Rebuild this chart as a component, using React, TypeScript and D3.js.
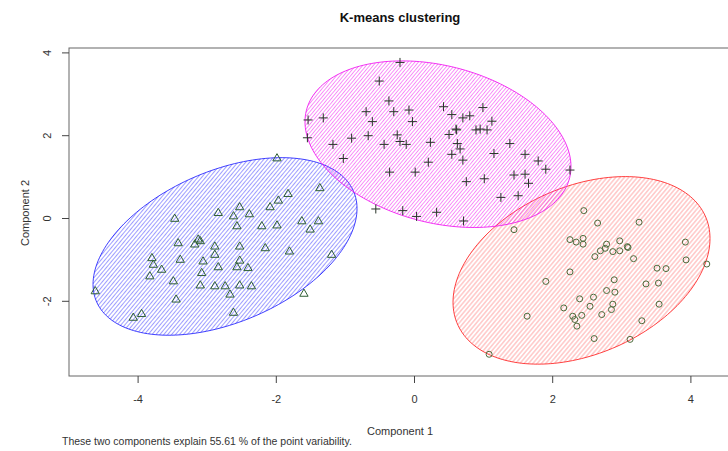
import React, { useEffect, useRef } from 'react';
import * as d3 from 'd3';

// axis ticks
const xTicks = [-4, -2, 0, 2, 4];
const yTicks = [-2, 0, 2, 4];

// cluster 1 (circles)
const circlePoints = [
  [2.45, 0.19], [2.65, -0.11], [3.25, -0.09], [1.44, -0.27], [2.25, -0.51], [2.34, -0.57],
  [2.44, -0.48], [2.44, -0.62], [2.78, -0.62], [2.76, -0.72], [2.69, -0.78], [2.97, -0.54],
  [2.87, -0.8], [2.97, -0.78], [3.09, -0.7], [2.61, -0.92], [3.17, -0.97], [3.92, -0.57],
  [3.93, -1.0], [3.51, -1.2], [3.64, -1.21], [4.23, -1.1], [2.25, -1.29], [1.9, -1.52],
  [2.89, -1.48], [3.35, -1.58], [3.53, -1.56], [2.78, -1.74], [2.9, -1.78], [2.59, -1.9],
  [2.39, -1.94], [2.54, -2.12], [2.87, -2.07], [2.85, -2.2], [2.71, -2.32], [3.54, -2.07],
  [2.16, -2.16], [1.63, -2.36], [2.29, -2.36], [2.32, -2.44], [2.42, -2.34], [2.35, -2.6],
  [3.29, -2.47], [2.6, -2.9], [3.12, -2.92], [1.08, -3.28], [3.08, -0.68]
];

// cluster 2 (triangles)
const trianglePoints = [
  [-1.99, 1.45], [-1.37, 0.73], [-1.83, 0.59], [-1.97, 0.43], [-2.09, 0.27], [-2.53, 0.27],
  [-2.84, 0.13], [-2.62, 0.05], [-2.39, 0.1], [-3.47, -0.01], [-2.57, -0.19], [-2.21, -0.19],
  [-1.99, -0.17], [-1.63, -0.07], [-1.51, -0.27], [-1.39, -0.07], [-3.13, -0.51], [-3.18, -0.63],
  [-3.42, -0.6], [-2.89, -0.68], [-2.53, -0.68], [-2.16, -0.72], [-1.81, -0.8], [-1.2, -0.88],
  [-2.89, -0.88], [-3.8, -0.96], [-3.39, -1.0], [-3.06, -1.04], [-2.84, -1.18], [-2.53, -1.02],
  [-2.57, -1.18], [-2.41, -1.2], [-3.78, -1.12], [-3.66, -1.24], [-3.08, -1.32], [-3.83, -1.4],
  [-3.49, -1.52], [-3.1, -1.62], [-2.89, -1.64], [-2.74, -1.64], [-2.53, -1.62], [-2.36, -1.64],
  [-2.67, -1.84], [-3.45, -1.96], [-4.62, -1.76], [-1.6, -1.82], [-3.95, -2.31], [-4.07, -2.4],
  [-2.62, -2.28], [-3.1, -0.55]
];

// cluster 3 (plus signs)
const plusPoints = [
  [-0.21, 3.77], [-0.51, 3.32], [-0.37, 2.84], [-0.3, 2.58], [-0.08, 2.62], [-0.7, 2.58],
  [-0.61, 2.34], [-0.03, 2.34], [-1.32, 2.43], [-1.54, 2.38], [-1.55, 1.95], [-1.18, 1.79],
  [-0.91, 1.94], [-0.67, 2.0], [-0.44, 1.79], [-0.25, 2.02], [-0.21, 1.86], [-0.12, 1.79],
  [0.23, 1.84], [-1.03, 1.45], [0.42, 2.7], [0.54, 2.51], [0.7, 2.43], [0.8, 2.48],
  [0.99, 2.68], [1.12, 2.35], [0.61, 2.14], [0.5, 2.03], [0.89, 2.14], [0.95, 2.16],
  [1.05, 2.14], [0.62, 1.81], [0.66, 1.68], [0.54, 1.55], [0.7, 1.41], [0.2, 1.36],
  [-0.36, 1.12], [0.01, 1.12], [1.15, 1.57], [1.38, 1.81], [1.6, 1.55], [1.79, 1.39],
  [1.9, 1.19], [2.25, 1.17], [0.75, 0.89], [1.01, 0.96], [1.44, 1.05], [1.6, 1.07],
  [1.65, 0.85], [1.5, 0.55], [1.25, 0.51], [-0.56, 0.23], [-0.17, 0.19], [0.03, 0.05],
  [0.32, 0.15], [0.71, -0.06], [0.6, 2.16]
];

// spanning ellipses: centre and [var x, var y, cov xy]
const ellipseCenters = [[2.417, -1.253], [-2.742, -0.675], [0.34, 1.795]];
const ellipseShapes = [[3.458, 5.131, 1.43], [3.649, 4.599, 1.749], [3.705, 4.048, -1.044]];

const clusterColors = ['#ff2020', '#2020ff', '#f010f0'];
const hatchGap = [3.3, 3.0, 2.7];
const hatchOpacity = [0.5, 0.55, 0.6];

export default function App() {
  const chartRef = useRef<SVGSVGElement>(null);

  useEffect(() => {
    const width = 728;
    const height = 451;
    const box = { left: 69, right: 732, top: 48, bottom: 376 };
    const font = '"Liberation Sans", Arial, sans-serif';

    const svg = d3.select(chartRef.current);
    svg.selectAll('*').remove();
    svg.attr('width', width).attr('height', height);

    const xScale = d3.scaleLinear().domain([-4, 4]).range([138.1, 690.9]);
    const yScale = d3.scaleLinear().domain([0, 4]).range([218.5, 52.9]);

    const defs = svg.append('defs');
    clusterColors.forEach((c, i) => {
      const g = hatchGap[i];
      const p = defs.append('pattern')
        .attr('id', `hatch-${i}`)
        .attr('patternUnits', 'userSpaceOnUse')
        .attr('width', 10)
        .attr('height', g)
        .attr('patternTransform', 'rotate(-50)');
      p.append('line')
        .attr('x1', 0).attr('y1', g / 2)
        .attr('x2', 10).attr('y2', g / 2)
        .attr('stroke', c)
        .attr('stroke-width', 0.8)
        .attr('stroke-opacity', hatchOpacity[i]);
    });

    // ellipses
    const line = d3.line<number[]>()
      .x(d => xScale(d[0]))
      .y(d => yScale(d[1]))
      .curve(d3.curveLinearClosed);

    ellipseCenters.forEach((ctr, i) => {
      const [vx, vy, cxy] = ellipseShapes[i];
      const l11 = Math.sqrt(vx);
      const l21 = cxy / l11;
      const l22 = Math.sqrt(vy - l21 * l21);
      const pts = d3.range(0, 360, 2).map(a => {
        const t = (a * Math.PI) / 180;
        return [ctr[0] + l11 * Math.cos(t), ctr[1] + l21 * Math.cos(t) + l22 * Math.sin(t)];
      });
      svg.append('path')
        .attr('d', line(pts))
        .attr('fill', `url(#hatch-${i})`)
        .attr('stroke', clusterColors[i])
        .attr('stroke-opacity', 0.85)
        .attr('stroke-width', 1);
    });

    // points
    const pointColor = '#2f5f35';
    svg.append('g').selectAll('circle')
      .data(circlePoints)
      .enter()
      .append('circle')
      .attr('cx', d => xScale(d[0]))
      .attr('cy', d => yScale(d[1]))
      .attr('r', 3)
      .attr('fill', 'none')
      .attr('stroke', '#4d6b3c')
      .attr('stroke-width', 1);

    const tri = d3.symbol().type(d3.symbolTriangle).size(30);
    svg.append('g').selectAll('path')
      .data(trianglePoints)
      .enter()
      .append('path')
      .attr('d', tri)
      .attr('transform', d => `translate(${xScale(d[0])},${yScale(d[1])})`)
      .attr('fill', 'none')
      .attr('stroke', pointColor)
      .attr('stroke-width', 1);

    svg.append('g').selectAll('path')
      .data(plusPoints)
      .enter()
      .append('path')
      .attr('d', 'M-4.5,0H4.5M0,-4.5V4.5')
      .attr('transform', d => `translate(${xScale(d[0])},${yScale(d[1])})`)
      .attr('fill', 'none')
      .attr('stroke', '#2a352a')
      .attr('stroke-width', 1);

    // frame
    svg.append('rect')
      .attr('x', box.left)
      .attr('y', box.top)
      .attr('width', box.right - box.left)
      .attr('height', box.bottom - box.top)
      .attr('fill', 'none')
      .attr('stroke', '#666')
      .attr('stroke-width', 1);

    // x axis
    const xAxis = svg.append('g');
    xTicks.forEach(t => {
      xAxis.append('line')
        .attr('x1', xScale(t)).attr('x2', xScale(t))
        .attr('y1', box.bottom).attr('y2', box.bottom + 7)
        .attr('stroke', '#444');
      xAxis.append('text')
        .attr('x', xScale(t))
        .attr('y', 403)
        .attr('text-anchor', 'middle')
        .attr('font-family', font)
        .attr('font-size', 11)
        .attr('fill', '#333')
        .text(t);
    });

    // y axis
    const yAxis = svg.append('g');
    yTicks.forEach(t => {
      yAxis.append('line')
        .attr('x1', box.left).attr('x2', box.left - 7)
        .attr('y1', yScale(t)).attr('y2', yScale(t))
        .attr('stroke', '#444');
      yAxis.append('text')
        .attr('transform', `translate(51,${yScale(t)}) rotate(-90)`)
        .attr('text-anchor', 'middle')
        .attr('font-family', font)
        .attr('font-size', 11)
        .attr('fill', '#333')
        .text(t);
    });

    svg.append('text')
      .attr('x', 400)
      .attr('y', 22)
      .attr('text-anchor', 'middle')
      .attr('font-family', font)
      .attr('font-size', 13)
      .attr('font-weight', 'bold')
      .attr('fill', '#111')
      .text('K-means clustering');

    svg.append('text')
      .attr('x', 400)
      .attr('y', 435)
      .attr('text-anchor', 'middle')
      .attr('font-family', font)
      .attr('font-size', 11)
      .attr('fill', '#333')
      .text('Component 1');

    svg.append('text')
      .attr('transform', 'translate(29,213) rotate(-90)')
      .attr('text-anchor', 'middle')
      .attr('font-family', font)
      .attr('font-size', 11)
      .attr('fill', '#333')
      .text('Component 2');

    svg.append('text')
      .attr('x', 62)
      .attr('y', 445)
      .attr('font-family', font)
      .attr('font-size', 10.5)
      .attr('fill', '#333')
      .text('These two components explain 55.61 % of the point variability.');
  }, []);

  return (
    <svg
      ref={chartRef}
      style={{ position: 'absolute', left: 0, top: 0, background: '#fff' }}
    />
  );
}
